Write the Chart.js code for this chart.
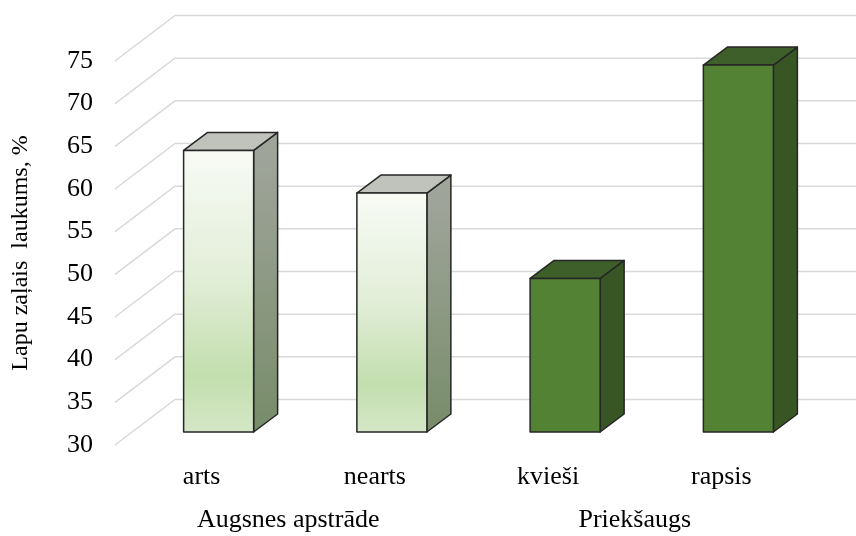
<!DOCTYPE html>
<html>
<head>
<meta charset="utf-8">
<script src="https://cdn.jsdelivr.net/npm/chart.js@4"></script>
<style>
  html, body { margin: 0; padding: 0; background: #fff; }
  #wrap { width: 856px; height: 536px; }
</style>
</head>
<body>
<div id="wrap"><canvas id="chartLapu" width="856" height="536"></canvas></div>
<script>
// chart values
var categories = ['arts', 'nearts', 'kvieši', 'rapsis'];
var values = [63, 58, 48, 73];
var groups = ['Augsnes apstrāde', 'Priekšaugs'];
var groupOf = [0, 0, 1, 1];
var yMin = 30, yMax = 75, yStep = 5;
var yTitle = 'Lapu zaļais  laukums, %';

// 3d look
var wallDepth = { dx: 60, dy: -45.5 };
var barFront = { dx: 17, dy: -13 };
var barDepth = { dx: 24, dy: -18 };
var gridColor = '#d9d9d9';
var edgeColor = '#262626';
var tickFont = { family: 'Liberation Serif', size: 26 };
var titleFont = { family: 'Liberation Serif', size: 24 };

var barStyles = [
    { // light bars (Augsnes apstrāde)
        front: [[0, '#f8fbf5'], [0.45, '#e2eed8'], [0.8, '#c3deae'], [1, '#d4e7c6']],
        side: [[0, '#a0a59b'], [1, '#778c69']],
        top: '#c0c3bc'
    },
    { // dark bars (Priekšaugs)
        front: [[0, '#548235'], [1, '#548235']],
        side: [[0, '#375623'], [1, '#375623']],
        top: '#3e5f29'
    }
];

function makeGradient(ctx, y0, y1, stops) {
    var g = ctx.createLinearGradient(0, y0, 0, y1);
    stops.forEach(function (s) { g.addColorStop(s[0], s[1]); });
    return g;
}

function poly(ctx, pts, fill) {
    ctx.beginPath();
    ctx.moveTo(pts[0][0], pts[0][1]);
    for (var i = 1; i < pts.length; i++) ctx.lineTo(pts[i][0], pts[i][1]);
    ctx.closePath();
    ctx.fillStyle = fill;
    ctx.fill();
    ctx.stroke();
}

// draws the side wall / back wall grid and the 3d columns
var box3d = {
    id: 'box3d',
    beforeDatasetsDraw: function (chart) {
        var ctx = chart.ctx, a = chart.chartArea, yScale = chart.scales.y;
        ctx.save();

        ctx.strokeStyle = gridColor;
        ctx.lineWidth = 1.5;
        yScale.ticks.forEach(function (t) {
            var py = yScale.getPixelForValue(t.value);
            ctx.beginPath();
            ctx.moveTo(a.left, py);
            ctx.lineTo(a.left + wallDepth.dx, py + wallDepth.dy);
            ctx.lineTo(a.right + wallDepth.dx, py + wallDepth.dy);
            ctx.stroke();
        });

        ctx.strokeStyle = edgeColor;
        ctx.lineWidth = 1.5;
        ctx.lineJoin = 'round';
        var meta = chart.getDatasetMeta(0);
        meta.data.forEach(function (bar, i) {
            var p = bar.getProps(['x', 'y', 'base', 'width'], true);
            var st = barStyles[groupOf[i]];
            var l = p.x - p.width / 2 + barFront.dx;
            var r = l + p.width;
            var t = p.y + barFront.dy;
            var b = p.base + barFront.dy;
            var dx = barDepth.dx, dy = barDepth.dy;

            poly(ctx, [[r, t], [r + dx, t + dy], [r + dx, b + dy], [r, b]],
                makeGradient(ctx, t, b, st.side));
            poly(ctx, [[l, t], [l + dx, t + dy], [r + dx, t + dy], [r, t]], st.top);
            poly(ctx, [[l, t], [r, t], [r, b], [l, b]],
                makeGradient(ctx, t, b, st.front));
        });

        ctx.restore();
        return false;
    }
};

var ctx = document.getElementById('chartLapu');
var myChartLapu = new Chart(ctx, {
    type: 'bar',
    data: {
        labels: categories,
        datasets: [{
            data: values,
            xAxisID: 'x',
            yAxisID: 'y',
            base: yMin,
            barPercentage: 0.449,
            categoryPercentage: 0.9
        }]
    },
    plugins: [box3d],
    options: {
        responsive: false,
        animation: false,
        layout: { padding: { top: 61, right: 48, left: 0, bottom: 0 } },
        plugins: {
            legend: { display: false },
            tooltip: { enabled: false }
        },
        scales: {
            y: {
                type: 'linear',
                min: yMin,
                max: yMax,
                ticks: { stepSize: yStep, padding: 22, font: tickFont, color: '#000' },
                grid: { display: false, drawTicks: false },
                border: { display: false },
                title: {
                    display: true,
                    text: yTitle,
                    font: titleFont,
                    color: '#000',
                    padding: { top: 6, bottom: 0 }
                },
                afterFit: function (s) { s.width = 115; }
            },
            // category labels
            x: {
                type: 'category',
                position: 'bottom',
                weight: 0,
                offset: true,
                grid: { display: false, drawTicks: false },
                border: { display: false },
                ticks: {
                    padding: 17,
                    autoSkip: false,
                    maxRotation: 0,
                    font: tickFont,
                    color: '#000'
                },
                afterFit: function (s) { s.height = 45; }
            },
            // group labels
            xg: {
                type: 'category',
                position: 'bottom',
                weight: 1,
                offset: true,
                labels: groups,
                grid: { display: false, drawTicks: false },
                border: { display: false },
                ticks: {
                    padding: 14.5,
                    autoSkip: false,
                    maxRotation: 0,
                    font: tickFont,
                    color: '#000'
                },
                afterFit: function (s) { s.height = 46; }
            }
        }
    }
});
</script>
</body>
</html>
